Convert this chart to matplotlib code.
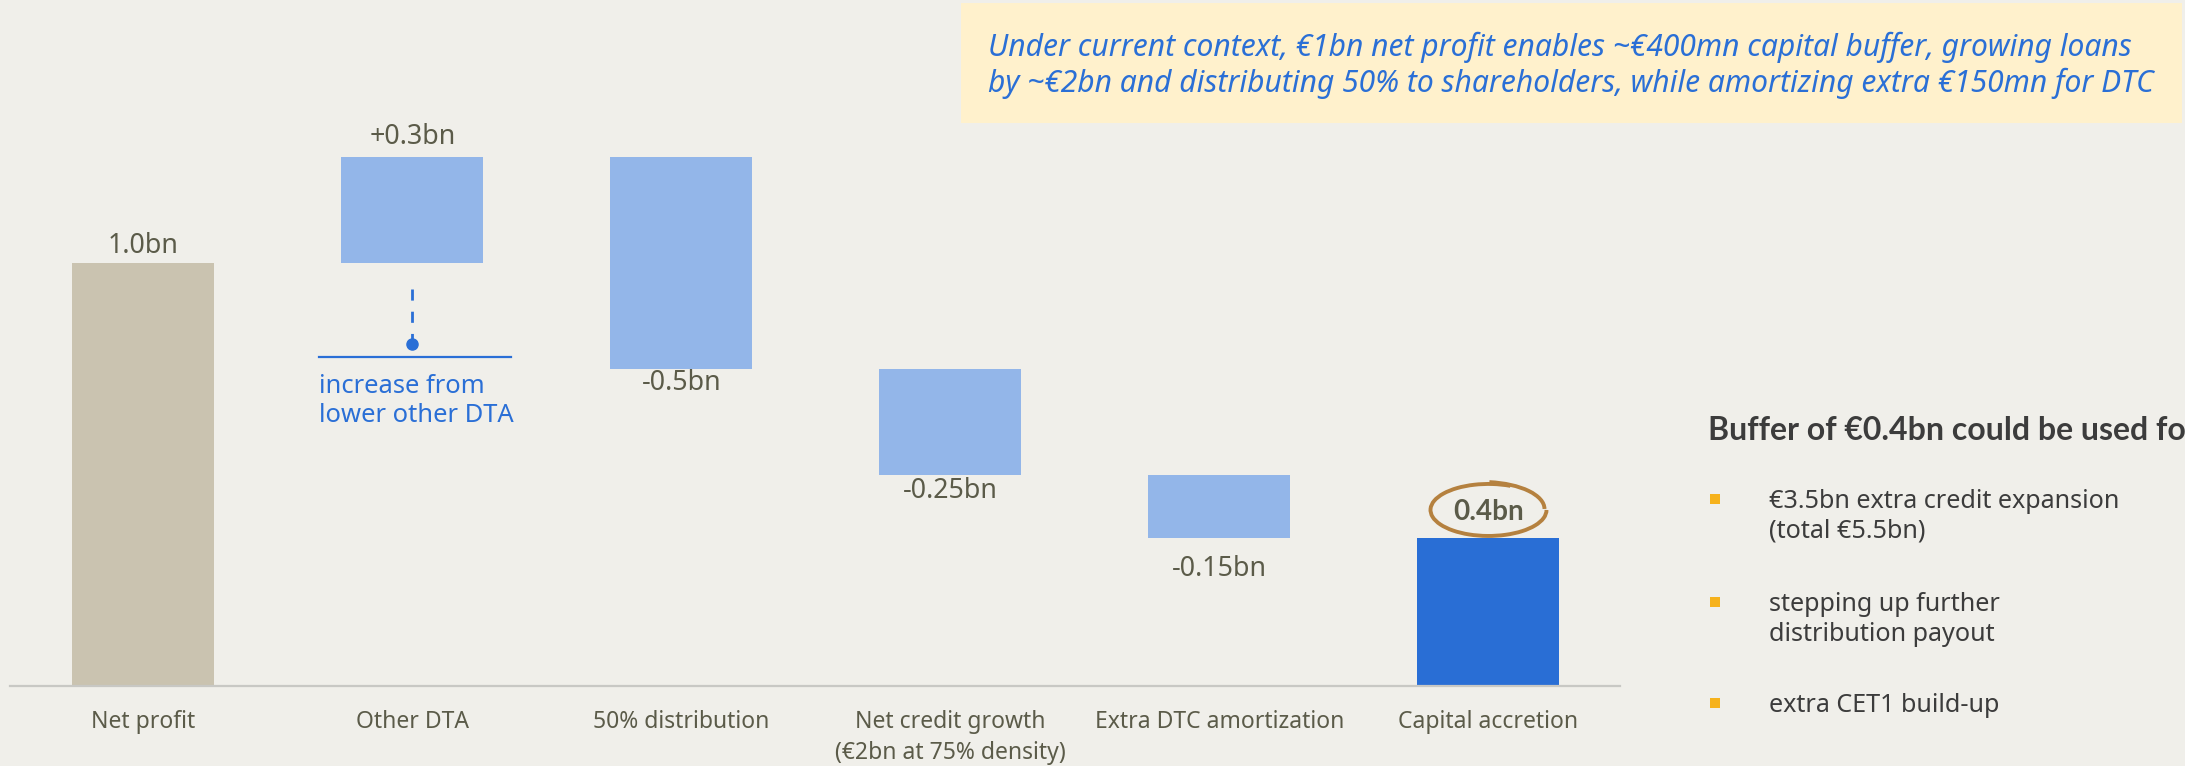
import matplotlib.pyplot as plt
from matplotlib.patches import Rectangle, Arc

plt.rcParams['font.family'] = ['Noto Sans', 'DejaVu Sans']
BOLD_FONT = ['Lato', 'DejaVu Sans']

# waterfall data (bn)
categories = ["Net profit", "Other DTA", "50% distribution", "Net credit growth\n(€2bn at 75% density)",
              "Extra DTC amortization", "Capital accretion"]
steps = [1.0, 0.25, -0.5, -0.25, -0.15]
value_labels = ["1.0bn", "+0.3bn", "-0.5bn", "-0.25bn", "-0.15bn", "0.4bn"]

title_lines = ["Under current context, €1bn net profit enables ~€400mn capital buffer, growing loans",
               "by ~€2bn and distributing 50% to shareholders, while amortizing extra €150mn for DTC"]
side_header = "Buffer of €0.4bn could be used for"
side_bullets = ["€3.5bn extra credit expansion\n(total €5.5bn)",
                "stepping up further\ndistribution payout",
                "extra CET1 build-up"]
dta_note = "increase from\nlower other DTA"

BG = "#f0efea"
TXT = "#5b5b49"
BLUE = "#2a6fd6"
LIGHT = "#93b6e9"

W, H = 2185, 766
PX_X = 269.0   # pixels per category slot
PX_Y = 423.0   # pixels per bn
X0 = 143.5     # pixel x of first bar centre
Y0 = 686.0     # pixel y of zero line

fig = plt.figure(figsize=(W / 100, H / 100), dpi=100, facecolor=BG)

ax_left, ax_right = 10, 1620
ax_top = 40
ax = fig.add_axes([ax_left / W, (H - Y0) / H, (ax_right - ax_left) / W, (Y0 - ax_top) / H])
ax.set_facecolor(BG)
ax.set_xlim((ax_left - X0) / PX_X, (ax_right - X0) / PX_X)
ax.set_ylim(0, (Y0 - ax_top) / PX_Y)
for s in ["top", "right", "left"]:
    ax.spines[s].set_visible(False)
ax.spines["bottom"].set_color("#c8c8c4")
ax.spines["bottom"].set_linewidth(1.6)
ax.set_yticks([])
ax.set_xticks([])

# waterfall bars
bottoms, heights = [], []
level = 0.0
for v in steps:
    if v >= 0:
        bottoms.append(level if bottoms else 0.0)
        heights.append(v)
    else:
        bottoms.append(level + v)
        heights.append(-v)
    level += v
total = level
bottoms.append(0.0)
heights.append(total)
xs = list(range(len(categories)))
colors = ["#cac3b0", LIGHT, LIGHT, LIGHT, LIGHT, "#296ed5"]
ax.bar(xs, heights, bottom=bottoms, width=142 / PX_X, color=colors, edgecolor="none")

# value labels: pixel offset from bar top (positive) or bottom (negative)
label_offsets = [17, 20, -14, -17, -31, 26]
for i, lab in enumerate(value_labels):
    anchor = bottoms[i] + heights[i] if label_offsets[i] > 0 else bottoms[i]
    if i == len(value_labels) - 1:
        ax.annotate(lab, (xs[i], anchor), xytext=(0, label_offsets[i]), textcoords="offset pixels",
                    ha="center", va="center", fontsize=20, color=TXT,
                    fontweight="bold", family=BOLD_FONT)
    else:
        ax.annotate(lab, (xs[i], anchor), xytext=(0, label_offsets[i]), textcoords="offset pixels",
                    ha="center", va="center", fontsize=19.3, color=TXT)

# hand-drawn circle around the final label
cy = total + 28 / PX_Y
ax.add_patch(Arc((xs[-1], cy), 116 / PX_X, 52 / PX_Y, theta1=35, theta2=360,
                 color="#b5813f", lw=2.8, clip_on=False))
ax.add_patch(Arc((xs[-1] - 6 / PX_X, cy + 1 / PX_Y), 124 / PX_X, 54 / PX_Y, theta1=0, theta2=68,
                 color="#b5813f", lw=2.8, clip_on=False))

# category labels
for i, c in enumerate(categories):
    ax.annotate(c, (xs[i], 0), xytext=(0, -24), textcoords="offset pixels",
                ha="center", va="top", fontsize=16.5, color=TXT, linespacing=1.4,
                annotation_clip=False)

# Other DTA callout
ax.plot([xs[1], xs[1]], [bottoms[1] - 26 / PX_Y, bottoms[1] - 78 / PX_Y], color=BLUE,
        lw=2, ls=(0, (4, 4)))
ax.plot([xs[1]], [bottoms[1] - 81 / PX_Y], marker="o", ms=8, color=BLUE)
line_y = bottoms[1] - 94 / PX_Y
ax.plot([xs[1] - 93 / PX_X, xs[1] + 99 / PX_X], [line_y, line_y], color=BLUE, lw=1.6)
ax.text(xs[1] - 93 / PX_X, line_y - 17 / PX_Y, dta_note, ha="left", va="top",
        fontsize=18.4, color=BLUE, linespacing=1.2)

# headline box
fig.add_artist(Rectangle((961 / W, 1 - 123 / H), (2182 - 961) / W, 120 / H,
                         transform=fig.transFigure, facecolor="#fff1cc", edgecolor="none"))
fig.text(988 / W, 1 - 65 / H, "\n".join(title_lines), ha="left", va="center",
         fontsize=21.6, style="italic", color=BLUE, linespacing=1.2)

# side panel (header runs off the right edge like the slide)
fig.text(1708 / W, 1 - 431 / H, side_header, ha="left", va="center",
         fontsize=23, fontweight="bold", color="#3c3c3c", family=BOLD_FONT)
bullet_y = [503, 606, 707]
for y, b in zip(bullet_y, side_bullets):
    fig.add_artist(Rectangle((1710 / W, 1 - (y + 1) / H), 10 / W, 10 / H,
                             transform=fig.transFigure, facecolor="#f6b21c", edgecolor="none"))
    fig.text(1769 / W, 1 - (y - 14) / H, b, ha="left", va="top",
             fontsize=18.1, color="#3c3c3c", linespacing=1.25)

fig.savefig("out.png", dpi=100, facecolor=BG)
